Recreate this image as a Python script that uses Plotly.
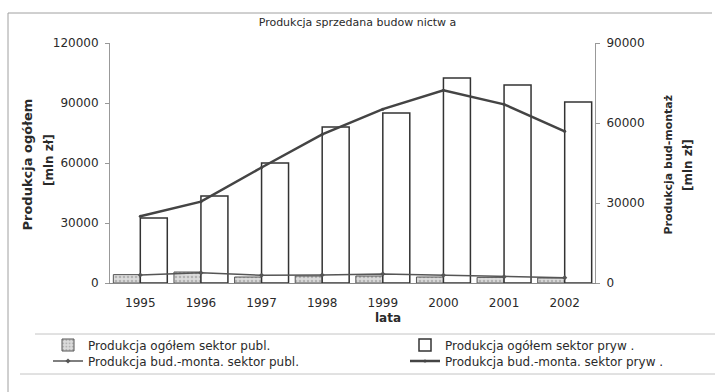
import plotly.graph_objects as go

# Years on the category axis
lata = ["1995", "1996", "1997", "1998", "1999", "2000", "2001", "2002"]

# Total production [mln zł] (left axis)
ogolem_publ = [4200, 5500, 3000, 3500, 3500, 3000, 2800, 2500]
ogolem_pryw = [32500, 43500, 60000, 78000, 85000, 102500, 99000, 90500]

# Construction-assembly production [mln zł] (right axis)
bm_publ = [3000, 3800, 2900, 3000, 3400, 2900, 2300, 2000]
bm_pryw = [25000, 30500, 43300, 55700, 65200, 72300, 67000, 56900]

W, H = 715, 392
ML, MR, MT, MB = 110, 120, 43, 109
PW, PH = W - ML - MR, H - MT - MB


def px(x):
    return (x - ML) / PW


def py(y):
    return (H - MB - y) / PH


FONT = "DejaVu Sans, Arial, sans-serif"
TXT = "#2a2a2a"

fig = go.Figure()

fig.add_trace(go.Bar(
    x=lata, y=ogolem_publ, name="Produkcja ogółem sektor publ.",
    marker=dict(color="#d4d4d4",
                line=dict(color="#555555", width=1),
                pattern=dict(shape=".", fgcolor="#8a8a8a", bgcolor="#dcdcdc",
                             size=4, solidity=0.35)),
    legend="legend", yaxis="y",
))
fig.add_trace(go.Bar(
    x=lata, y=ogolem_pryw, name="Produkcja ogółem sektor pryw .",
    marker=dict(color="white", line=dict(color="#333333", width=1.5)),
    legend="legend2", yaxis="y",
))
fig.add_trace(go.Scatter(
    x=lata, y=bm_publ, name="Produkcja bud.-monta. sektor publ.",
    mode="lines+markers",
    line=dict(color="#555555", width=1.5),
    marker=dict(symbol="diamond", size=4, color="#555555"),
    legend="legend3", yaxis="y2",
))
fig.add_trace(go.Scatter(
    x=lata, y=bm_pryw, name="Produkcja bud.-monta. sektor pryw .",
    mode="lines+markers",
    line=dict(color="#444444", width=2.5),
    marker=dict(symbol="circle", size=3, color="#444444"),
    legend="legend4", yaxis="y2",
))

axis_font = dict(family=FONT, size=12, color=TXT)
legend_font = dict(family=FONT, size=12, color=TXT)


def legend_box(x_px, y_px):
    # one legend entry, placed by its centre line in page pixels
    return dict(
        orientation="v", xref="container", yref="container",
        x=x_px / W, xanchor="left",
        y=1 - y_px / H, yanchor="middle",
        font=legend_font, bgcolor="rgba(0,0,0,0)",
        tracegroupgap=0, itemwidth=30,
    )


fig.update_layout(
    width=W, height=H,
    margin=dict(l=ML, r=MR, t=MT, b=MB, autoexpand=False),
    paper_bgcolor="white", plot_bgcolor="white",
    barmode="group", bargap=0.11, bargroupgap=0,
    font=dict(family=FONT, size=12, color=TXT),
    title=dict(text="Produkcja sprzedana budow nictw a",
               x=0.5, xanchor="center", xref="container",
               y=1 - 22 / H, yanchor="middle", yref="container",
               font=dict(family=FONT, size=11, color=TXT)),
    xaxis=dict(
        type="category", showgrid=False,
        showline=True, linecolor="#888888", linewidth=1,
        ticks="", tickfont=axis_font, ticklabelstandoff=9,
    ),
    yaxis=dict(
        range=[0, 120000], dtick=30000, tickformat="d",
        showgrid=False, zeroline=False,
        showline=True, linecolor="#999999", linewidth=1,
        ticks="outside", ticklen=4, tickcolor="#999999",
        tickfont=axis_font, ticklabelstandoff=4,
    ),
    yaxis2=dict(
        range=[0, 90000], dtick=30000, tickformat="d",
        overlaying="y", side="right",
        showgrid=False, zeroline=False,
        showline=True, linecolor="#999999", linewidth=1,
        ticks="outside", ticklen=4, tickcolor="#999999",
        tickfont=axis_font, ticklabelstandoff=4,
    ),
    legend=legend_box(48, 345),
    legend2=legend_box(405, 345),
    legend3=legend_box(48, 361),
    legend4=legend_box(405, 361),
    showlegend=True,
)

# Axis titles
fig.add_annotation(text="<b>Produkcja ogółem</b>", textangle=-90,
                   x=px(17), y=py(165), xref="paper", yref="paper",
                   showarrow=False, font=dict(family=FONT, size=13, color=TXT))
fig.add_annotation(text="<b>[mln zł]</b>", textangle=-90,
                   x=px(40), y=py(160), xref="paper", yref="paper",
                   showarrow=False, font=dict(family=FONT, size=12, color=TXT))
fig.add_annotation(text="<b>Produkcja bud-montaż</b>", textangle=-90,
                   x=px(676), y=py(165), xref="paper", yref="paper",
                   showarrow=False, font=dict(family=FONT, size=11, color=TXT))
fig.add_annotation(text="<b>[mln zł]</b>", textangle=-90,
                   x=px(697), y=py(165), xref="paper", yref="paper",
                   showarrow=False, font=dict(family=FONT, size=12, color=TXT))
fig.add_annotation(text="<b>lata</b>", x=px(388), y=py(318),
                   xref="paper", yref="paper", yanchor="middle",
                   showarrow=False, font=axis_font)

# Chart frame and legend separators
frame = dict(color="#a0a0a0", width=1)
fig.add_shape(type="line", xref="paper", yref="paper",
              x0=px(8), x1=px(712), y0=py(13), y1=py(13), line=frame)
fig.add_shape(type="line", xref="paper", yref="paper",
              x0=px(8), x1=px(8), y0=py(13), y1=py(392), line=frame)
sep = dict(color="#c4c4c4", width=1)
fig.add_shape(type="line", xref="paper", yref="paper",
              x0=px(35), x1=px(715), y0=py(334), y1=py(334), line=sep)
fig.add_shape(type="line", xref="paper", yref="paper",
              x0=px(20), x1=px(715), y0=py(374), y1=py(374), line=sep)

fig.write_html("out.html")
